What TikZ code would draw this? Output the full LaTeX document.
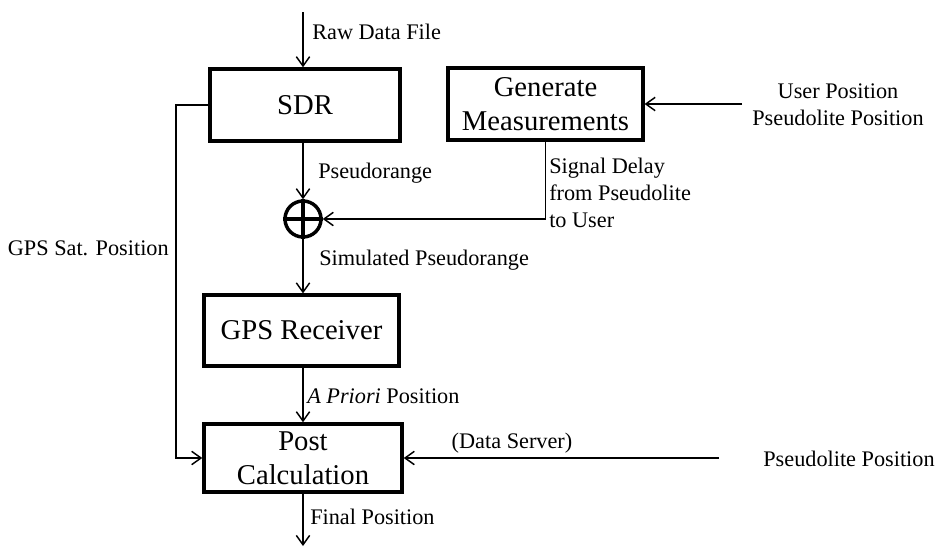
\documentclass[tikz,border=0pt]{standalone}
\usepackage{fontspec}
\setmainfont{Liberation Serif}
\usetikzlibrary{arrows.meta}
\begin{document}
\begin{tikzpicture}[x=0.75pt,y=-0.75pt,
  blk/.style={draw,line width=2.6pt,inner sep=0pt,align=center,
    font=\fontsize{21.5}{25.5}\selectfont},
  lbl/.style={inner sep=0pt,font=\fontsize{16.7}{20}\selectfont},
  arr/.style={line width=1.1pt,-{Straight Barb[length=7pt,width=10pt,line width=1.1pt]}},
  ln/.style={line width=1.1pt}]
\useasboundingbox (0,0) rectangle (937,546);
% blocks
\node[blk,minimum width=142.5pt,minimum height=54pt] (sdr) at (305,105) {SDR};
\node[blk,minimum width=146pt,minimum height=54pt] (gm) at (545.5,104) {Generate\\Measurements};
\node[blk,minimum width=146pt,minimum height=53pt] (gps) at (301.5,330.5) {GPS Receiver};
\node[blk,minimum width=148.5pt,minimum height=51pt] (post) at (303,458) {Post\\Calculation};
\node[draw,circle,line width=2.6pt,minimum size=27pt,inner sep=0pt] (circ) at (303,219) {};
\draw[line width=2.6pt] (circ.north) -- (circ.south) (circ.west) -- (circ.east);
% free ends
\coordinate (raw) at (303,12);
\coordinate (fin) at (303,546);
\coordinate (lft) at (176,105);
\coordinate (uin) at (742,104);
\coordinate (dsin) at (719,458);
% connectors
\draw[arr] (raw) -- (raw |- sdr.north);
\draw[arr] (circ |- sdr.south) -- (circ.north);
\draw[arr] (gm.south) |- (circ.east);
\draw[arr] (circ.south) -- (circ |- gps.north);
\draw[arr] (circ |- gps.south) -- (circ |- post.north);
\draw[arr] (circ |- post.south) -- (fin);
\draw[arr] (sdr.west) -- (lft) |- (post.west);
\draw[arr] (uin) -- (uin -| gm.east);
\draw[arr] (dsin) -- (post.east);
% labels
\node[lbl,anchor=west] (lraw) at (312,32) {Raw Data File};
\node[lbl,anchor=west] (lpr) at (318,173) {Pseudorange};
\node[lbl,anchor=west,align=left] (lsd) at (549,193) {Signal Delay\\from Pseudolite\\to User};
\node[lbl,anchor=west] (lsim) at (319,260) {Simulated Pseudorange};
\node[lbl,anchor=east] (lsat) at (169,248) {GPS Sat. Position};
\node[lbl,anchor=west] (lap) at (307,396) {\textit{A Priori} Position};
\node[lbl] (lds) at (512,443) {(Data Server)};
\node[lbl,anchor=west] (lfin) at (310,517) {Final Position};
\node[lbl,align=center] (luser) at (838,105) {User Position\\Pseudolite Position};
\node[lbl] (lpl) at (849,459) {Pseudolite Position};
\end{tikzpicture}
\end{document}
